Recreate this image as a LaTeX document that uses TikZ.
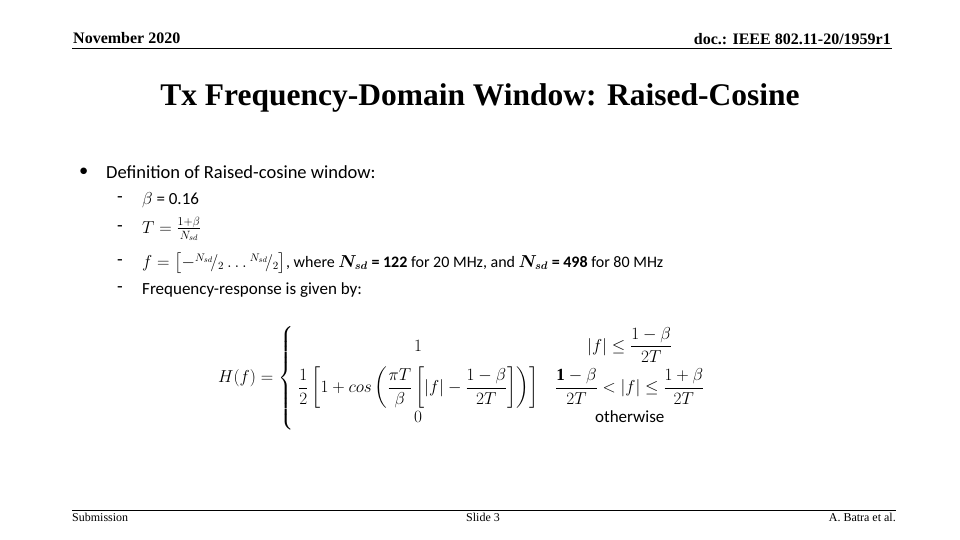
\documentclass[tikz,border=0pt]{standalone}
\usepackage{amsmath}
\usepackage{fontspec}
\setmainfont{Liberation Serif}
\newfontfamily\bodyfont{Carlito}
\usetikzlibrary{positioning}
\tikzset{
  head/.style={font=\fontsize{16}{18}\selectfont\bfseries, inner sep=0pt},
  foot/.style={font=\fontsize{12}{14}\selectfont, inner sep=0pt},
  body/.style={font=\bodyfont\fontsize{18.5}{22}\selectfont, inner sep=0pt, anchor=west},
  rule/.style={line width=0.6pt}
}
\begin{document}
\begin{tikzpicture}[x=1pt,y=-1pt]
\useasboundingbox (0,0) rectangle (960,540);
% header
\node[head, anchor=west] (date) at (73,38) {November 2020};
\node[head, anchor=east] (doc) at (891,39) {doc.: IEEE 802.11-20/1959r1};
\draw[rule] (72,48) -- (892,48);
\node[font=\fontsize{31.5}{34}\selectfont\bfseries, inner sep=0pt] (title) at (480,98) {Tx Frequency-Domain Window: Raised-Cosine};
% bullets
\node[body] (bul) at (79,172) {\textbullet};
\node[body] (def) at (106,172) {Definition of Raised-cosine window:};
\foreach \y in {200,229,263,290} \node[body] at (117,\y) {-};
\node[body, font=\bodyfont\fontsize{17}{20}\selectfont] (beta) at (142,200) {$\beta$ = 0.16};
\node[body, font=\bodyfont\fontsize{17}{20}\selectfont] (tdef) at (142,229) {$T=\frac{1+\beta}{N_{sd}}$};
\node[body, font=\bodyfont\fontsize{16}{20}\selectfont] (fdef) at (142,263) {$f=\bigl[-{}^{N_{sd}}\!/_{2}\ldots{}^{N_{sd}}\!/_{2}\bigr]$, where $\boldsymbol{N_{sd}}$ \textbf{= 122} for 20 MHz, and $\boldsymbol{N_{sd}}$ \textbf{= 498} for 80 MHz};
\node[body, font=\bodyfont\fontsize{17}{20}\selectfont] (resp) at (142,290) {Frequency-response is given by:};
% formula
\node[inner sep=0pt, font=\fontsize{17}{20}\selectfont, anchor=west] (hf) at (218,378)
{$H(f)=\left\{\begin{array}{@{\;}c@{\quad}c}
1 & |f|\le\dfrac{1-\beta}{2T}\\[10pt]
\dfrac{1}{2}\left[1+cos\left(\dfrac{\pi T}{\beta}\left[|f|-\dfrac{1-\beta}{2T}\right]\right)\right] & \dfrac{\mathbf{1}-\beta}{2T}<|f|\le\dfrac{1+\beta}{2T}\\[10pt]
0 & \text{\bodyfont otherwise}
\end{array}\right.$};
% footer
\draw[rule] (72,510) -- (896,510);
\node[foot, anchor=west] (sub) at (72,517) {Submission};
\node[foot] (slide) at (483,517) {Slide 3};
\node[foot, anchor=east] (auth) at (896,517) {A. Batra et al.};
\end{tikzpicture}
\end{document}
